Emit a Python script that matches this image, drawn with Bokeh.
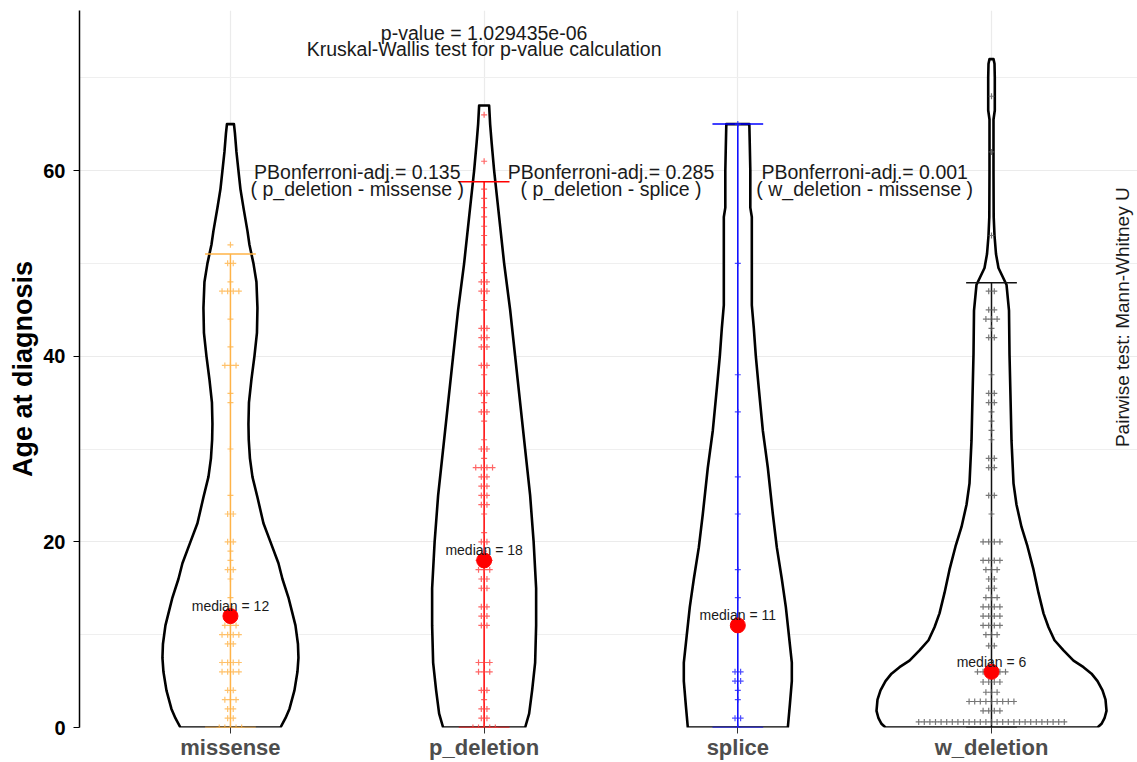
import numpy as np
from bokeh.plotting import figure
from bokeh.models import Range1d, FixedTicker
from bokeh.core.properties import value
from bokeh.embed import file_html
from bokeh.resources import INLINE

# ---------------- data ----------------
categories = ["missense", "p_deletion", "splice", "w_deletion"]
medians = [12, 18, 11, 6]
whisker_top = [51, 58.8, 65, 47.9]
whisker_bottom = [0, 0, 0, 0]

# violin outlines: age level and half-width (density, read in pixels)
missense_vy = [0, 1, 2, 4, 6, 7.5, 9, 11, 12.3, 14, 16, 17.7, 20, 22, 24.8, 27, 29, 31, 32.7, 35, 37.5, 40, 42.5, 45.2, 48, 50, 52, 53.5, 56, 58, 60, 62, 64, 65]
missense_vw = [50, 55, 59, 64, 67, 68, 67.5, 65, 62, 58, 52, 48, 40, 33, 27, 22, 19.5, 18.3, 18, 18.5, 21, 24, 26.5, 27, 26, 23, 19, 17, 13, 10, 8, 6, 4.5, 3.5]
pdel_vy = [0, 1.5, 4, 7, 11, 15, 20, 25, 30, 35, 40, 45, 50, 55, 60, 63, 65, 67]
pdel_vw = [41, 45, 48, 51, 52, 52, 49.5, 46, 41, 36, 31, 26, 20, 15, 10, 7.5, 6, 5]
splice_vy = [0, 2.4, 5, 7, 10, 13, 16, 19.4, 23, 28, 32, 36.5, 40, 43, 45.5, 47, 50, 55, 56, 60, 62.6, 65]
splice_vw = [50, 52, 54, 54, 51, 48, 44, 39, 35, 30, 25, 21, 18, 16, 14, 14, 14, 14, 12.5, 12.5, 12, 11.5]
wdel_vy = [0, 0.4, 1.0, 1.8, 3.0, 4.0, 5.0, 5.8, 6.5, 7.2, 8.3, 9.4, 10.8, 12.3, 14.5, 17, 19.5, 21.6, 24, 26.3, 30.9, 35.6, 40.2, 44.9, 47.7, 49.5, 51, 53, 55, 60, 65.5, 66.5, 70, 71.5, 72]
wdel_vw = [106, 110, 113, 115, 114, 111, 106, 100, 92, 82, 72, 63, 57, 52, 47, 42, 36, 30, 25, 22, 20, 19, 18, 17.5, 15, 7, 4.5, 3, 2.2, 2, 2, 3.3, 3.3, 3, 2]

# dot plot: age bins and number of stacked dots
missense_ages = [52, 50, 48, 47, 44, 41, 39, 36, 35, 30, 25, 23, 20, 19, 18, 17, 16, 14, 13, 12, 11, 10, 9, 7, 6, 4, 3, 2, 1, 0]
missense_counts = [1, 2, 1, 4, 1, 1, 3, 1, 1, 1, 1, 2, 2, 1, 1, 2, 1, 1, 1, 2, 3, 4, 2, 4, 4, 2, 3, 2, 2, 5]
pdel_ages = [66, 61, 58, 57, 56, 55, 54, 53, 52, 50, 49, 48, 47, 46, 45, 43, 42, 41, 39, 38, 36, 35, 34, 33, 31, 30, 29, 28, 27, 26, 25, 24, 23, 21, 20, 19, 18, 17, 16, 15, 13, 12, 11, 7, 6, 4, 3, 2, 1, 0]
pdel_counts = [1, 1, 1, 1, 1, 1, 1, 1, 1, 1, 1, 2, 2, 1, 1, 2, 2, 2, 2, 1, 2, 1, 2, 1, 1, 2, 1, 4, 2, 2, 2, 2, 1, 1, 2, 1, 3, 3, 2, 2, 2, 2, 2, 3, 3, 2, 1, 2, 2, 5]
splice_ages = [65, 50, 38, 34, 27, 23, 17, 14, 11, 6, 5, 4, 3, 1, 0]
splice_counts = [1, 1, 1, 1, 1, 1, 1, 1, 1, 2, 2, 1, 1, 2, 1]
wdel_ages = [68, 62, 53, 47, 45, 44, 43, 42, 38, 36, 35, 34, 33, 32, 31, 29, 28, 25, 23, 20, 18, 17, 16, 15, 14, 13, 12, 11, 10, 8.8, 6, 4.9, 3.8, 2.8, 1.8, 0.6]
wdel_counts = [1, 1, 1, 2, 2, 3, 1, 2, 1, 2, 2, 1, 1, 1, 1, 2, 2, 2, 1, 4, 4, 3, 2, 2, 3, 4, 4, 4, 3, 2, 6, 4, 3, 9, 4, 27]

pair_x = [1.5, 2.5, 3.5]
pair_p = ["0.135", "0.285", "0.001"]
pair_names = ["( p_deletion - missense )", "( p_deletion - splice )", "( w_deletion - missense )"]
kw_pvalue = "1.029435e-06"

# ---------------- styling ----------------
FONT = value("Liberation Sans")
PX = 1 / 253.67           # pixel -> category units (horizontal)
DOT_STEP = 5.6 * PX
line_colors = ["#FFB347", "#FF0000", "#0000FF", "#111111"]
dot_colors = ["#FFB347", "#FF4040", "#2020FF", "#555555"]

violins_y = [missense_vy, pdel_vy, splice_vy, wdel_vy]
violins_w = [missense_vw, pdel_vw, splice_vw, wdel_vw]
dots_age = [missense_ages, pdel_ages, splice_ages, wdel_ages]
dots_cnt = [missense_counts, pdel_counts, splice_counts, wdel_counts]

p = figure(width=1137, height=762, x_range=Range1d(0.405, 4.5755), y_range=Range1d(0, 77.24),
           output_backend="svg", toolbar_location=None,
           min_border_left=79, min_border_right=0, min_border_top=10, min_border_bottom=35)
p.outline_line_color = None
p.background_fill_color = "white"

# axes
xt = FixedTicker(ticks=[1, 2, 3, 4])
p.xaxis.ticker = xt
p.xgrid.ticker = xt
p.xaxis.major_label_overrides = {i + 1: c for i, c in enumerate(categories)}
p.xaxis.axis_line_color = None
p.xaxis.major_tick_line_color = "#333333"
p.xaxis.major_tick_out = 6
p.xaxis.major_tick_in = 0
p.xaxis.minor_tick_line_color = None
p.xaxis.major_label_standoff = 1
p.xaxis.major_label_text_font = "Liberation Sans"
p.xaxis.major_label_text_font_style = "bold"
p.xaxis.major_label_text_font_size = "22px"
p.xaxis.major_label_text_color = "#4D4D4D"

yt = FixedTicker(ticks=[0, 20, 40, 60], minor_ticks=[10, 30, 50, 70])
p.yaxis.ticker = yt
p.ygrid.ticker = yt
p.yaxis.axis_line_color = "black"
p.yaxis.axis_line_width = 1.5
p.yaxis.major_tick_line_color = "black"
p.yaxis.major_tick_out = 6
p.yaxis.major_tick_in = 0
p.yaxis.minor_tick_line_color = None
p.yaxis.major_label_standoff = 8
p.yaxis.major_label_text_font = "Liberation Sans"
p.yaxis.major_label_text_font_style = "bold"
p.yaxis.major_label_text_font_size = "20px"
p.yaxis.major_label_text_color = "black"
p.yaxis.axis_label = "Age at diagnosis"
p.yaxis.axis_label_text_font = "Liberation Sans"
p.yaxis.axis_label_text_font_style = "bold"
p.yaxis.axis_label_text_font_size = "27px"
p.yaxis.axis_label_text_color = "black"
p.yaxis.axis_label_standoff = 2

p.xgrid.grid_line_color = "#EBEBEB"
p.ygrid.grid_line_color = "#EBEBEB"
p.ygrid.minor_grid_line_color = "#EFEFEF"
p.xgrid.grid_line_width = 1.2
p.ygrid.grid_line_width = 1.2
p.ygrid.minor_grid_line_width = 1

# violins
for i in range(4):
    cx = i + 1
    vy = np.array(violins_y[i], dtype=float)
    vw = np.array(violins_w[i], dtype=float) * PX
    xs = np.concatenate([cx - vw, (cx + vw)[::-1]])
    ys = np.concatenate([vy, vy[::-1]])
    p.patch(xs, ys, fill_color="white", line_color="black", line_width=2.6, line_join="round")

# whiskers (error bars)
for i in range(4):
    cx = i + 1
    c = line_colors[i]
    p.segment(x0=[cx], y0=[whisker_bottom[i]], x1=[cx], y1=[whisker_top[i]], line_color=c, line_width=1.5)
    p.segment(x0=[cx - 0.1, cx - 0.1], y0=[whisker_top[i], whisker_bottom[i]],
              x1=[cx + 0.1, cx + 0.1], y1=[whisker_top[i], whisker_bottom[i]], line_color=c, line_width=1.5)

# dots
for i in range(4):
    cx = i + 1
    xs, ys = [], []
    for a, n in zip(dots_age[i], dots_cnt[i]):
        for k in range(n):
            xs.append(cx + (k - (n - 1) / 2) * DOT_STEP)
            ys.append(a)
    p.scatter(xs, ys, marker="cross", size=6, line_color=dot_colors[i], line_width=1.2, line_alpha=0.8)

# medians
mx = [1, 2, 3, 4]
p.scatter(mx, medians, size=15, fill_color="#FF0000", line_color="#FF0000")
p.text(mx, medians, text=[f"median = {m}" for m in medians], text_font=FONT, text_font_size="14px",
       text_align="center", text_baseline="middle", text_color="#1a1a1a", y_offset=-10)

# annotations
p.text([2, 2], [74.87, 73.04], text=[f"p-value = {kw_pvalue}", "Kruskal-Wallis test for p-value calculation"],
       text_font=FONT, text_font_size="19.5px", text_align="center", text_baseline="middle", text_color="#1a1a1a")
p.text(pair_x, [59.89] * 3, text=[f"PBonferroni-adj.= {v}" for v in pair_p],
       text_font=FONT, text_font_size="19.5px", text_align="center", text_baseline="middle", text_color="#1a1a1a")
p.text(pair_x, [57.96] * 3, text=pair_names,
       text_font=FONT, text_font_size="19.5px", text_align="center", text_baseline="middle", text_color="#1a1a1a")
p.text([4.515], [44.2], text=["Pairwise test: Mann-Whitney U"], angle=np.pi / 2,
       text_font=FONT, text_font_size="19px", text_align="center", text_baseline="middle", text_color="#1a1a1a")

open("out.html", "w").write(file_html(p, INLINE))
